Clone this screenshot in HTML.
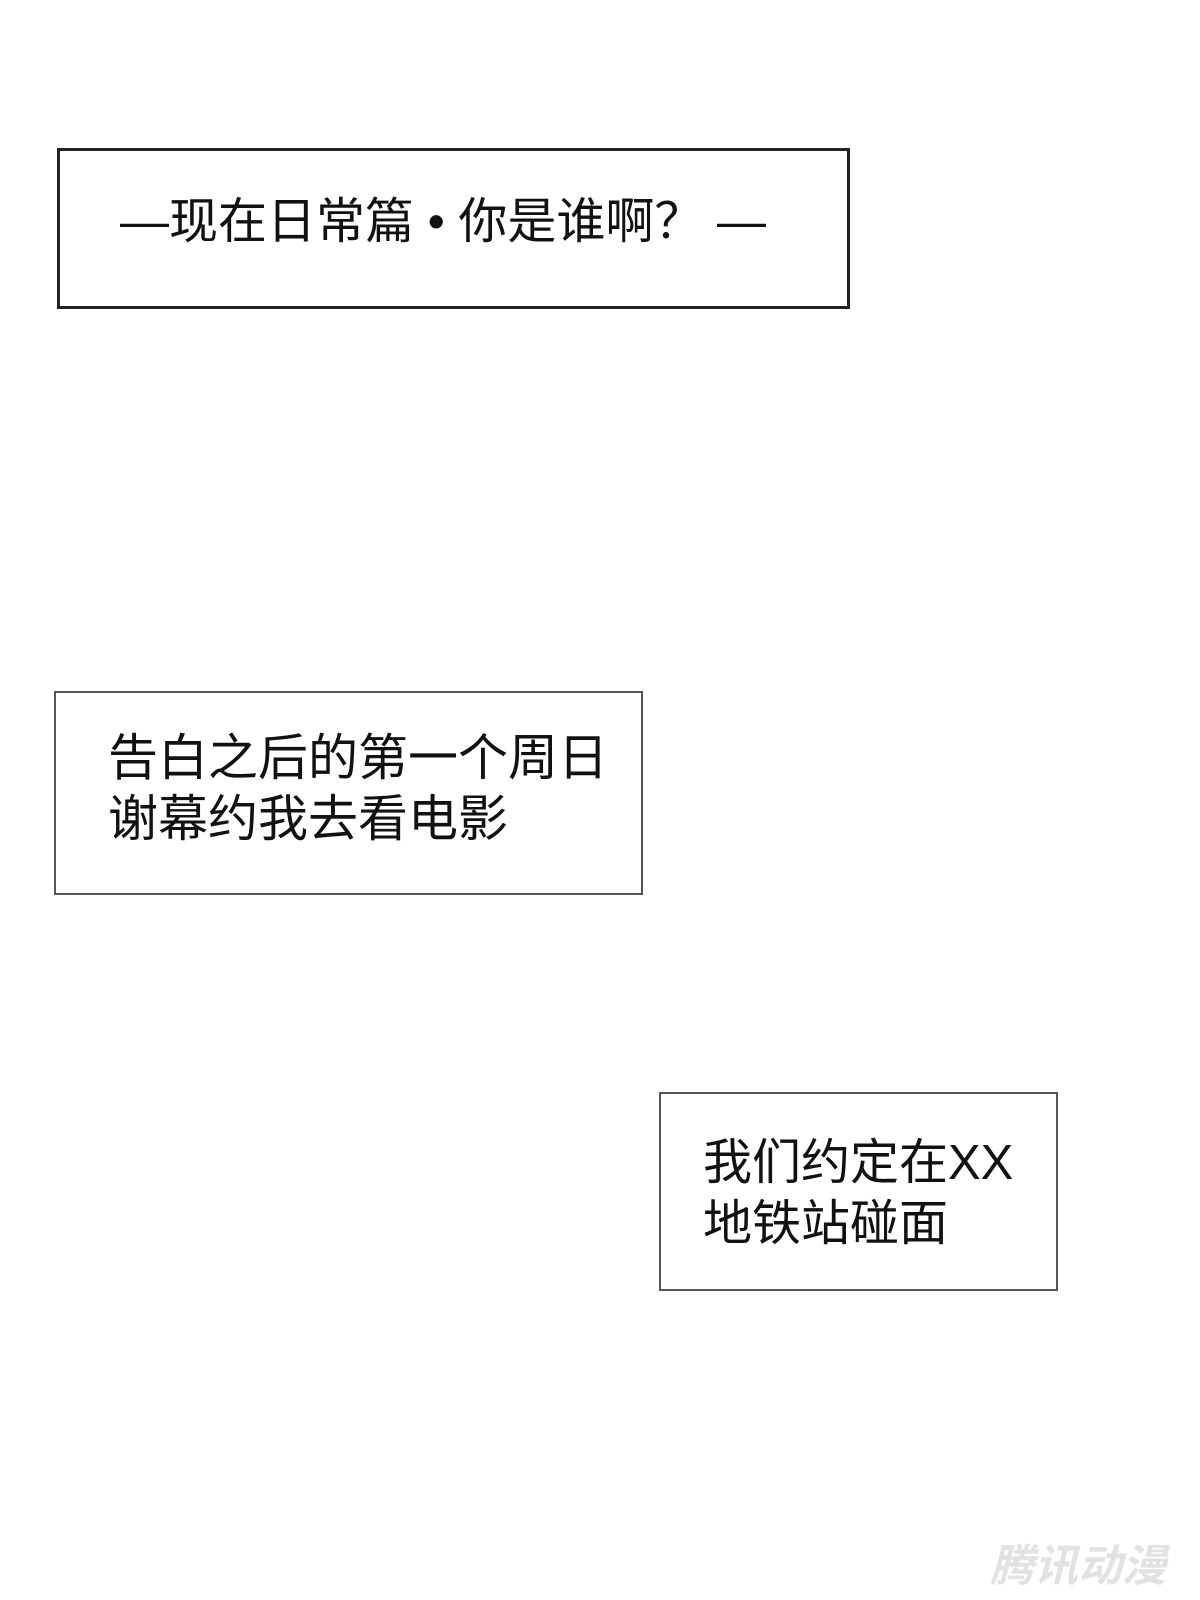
<!DOCTYPE html>
<html><head><meta charset="utf-8"><style>
body{margin:0;width:1200px;height:1600px;background:#fff;position:relative;overflow:hidden;font-family:"Liberation Sans","Noto Sans CJK SC",sans-serif;color:#111}
.b{position:absolute;box-sizing:border-box;background:#fff}
.t{position:absolute;font-size:50px;line-height:61px;white-space:nowrap}
</style></head><body>
<div class="b" style="left:57px;top:148px;width:793px;height:161px;border:3px solid #222"></div>
<div class="t" style="left:120px;top:192px;font-size:49px">—现在日常篇 • 你是谁啊？ —</div>
<div class="b" style="left:54px;top:691px;width:589px;height:204px;border:2px solid #555"></div>
<div class="t" style="left:108px;top:728px">告白之后的第一个周日<br>谢幕约我去看电影</div>
<div class="b" style="left:659px;top:1092px;width:399px;height:199px;border:2px solid #555"></div>
<div class="t" style="left:703px;top:1133px;font-size:49px">我们约定在XX<br>地铁站碰面</div>
<div class="t" style="left:990px;top:1536px;font-size:44px;font-weight:bold;color:#e2e2e2;font-style:italic">腾讯动漫</div>
</body></html>
